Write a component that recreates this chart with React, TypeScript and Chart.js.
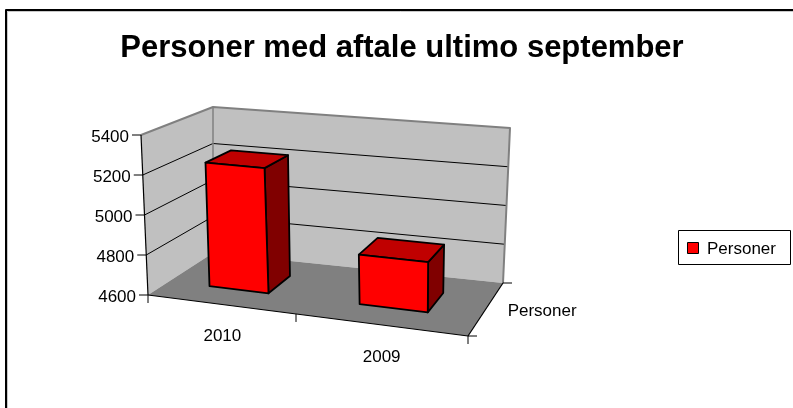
import React, { useEffect, useRef } from "react";
import { Chart, registerables } from "chart.js";

Chart.register(...registerables);

// ---- data ----
const chartTitle = "Personer med aftale ultimo september";
const categories = ["2010", "2009"];
const seriesLabel = "Personer";
const seriesValues = [5230, 4845];
const valueTicks = [4600, 4800, 5000, 5200, 5400];
const depthLabel = "Personer";

// ---- geometry of the 3D frame (plot box corners on screen) ----
type P = { x: number; y: number };

function quadMap(p0: P, p1: P, p2: P, p3: P) {
  const dx1 = p1.x - p2.x, dx2 = p3.x - p2.x, dx3 = p0.x - p1.x + p2.x - p3.x;
  const dy1 = p1.y - p2.y, dy2 = p3.y - p2.y, dy3 = p0.y - p1.y + p2.y - p3.y;
  const den = dx1 * dy2 - dx2 * dy1;
  const g = (dx3 * dy2 - dx2 * dy3) / den;
  const h = (dx1 * dy3 - dx3 * dy1) / den;
  const a = p1.x - p0.x + g * p1.x, b = p3.x - p0.x + h * p3.x, c = p0.x;
  const d = p1.y - p0.y + g * p1.y, e = p3.y - p0.y + h * p3.y, f = p0.y;
  return (u: number, w: number): P => {
    const z = g * u + h * w + 1;
    return { x: (a * u + b * w + c) / z, y: (d * u + e * w + f) / z };
  };
}

const floorMap = quadMap({ x: 148, y: 295 }, { x: 468, y: 336 }, { x: 503, y: 283 }, { x: 213, y: 253 });
const topMap = quadMap({ x: 141, y: 135 }, { x: 472, y: 166 }, { x: 510, y: 128 }, { x: 213, y: 107 });

function proj(u: number, w: number, v: number): P {
  const a = floorMap(u, w);
  const b = topMap(u, w);
  return { x: a.x + (b.x - a.x) * v, y: a.y + (b.y - a.y) * v };
}

const BAR_W0 = 0.3;
const BAR_W1 = 0.68;
const FONT = '"Liberation Sans", Arial, sans-serif';

function poly(ctx: CanvasRenderingContext2D, pts: P[], fill: string | null, stroke: string | null, lw = 1) {
  ctx.beginPath();
  pts.forEach((p, i) => (i === 0 ? ctx.moveTo(p.x, p.y) : ctx.lineTo(p.x, p.y)));
  ctx.closePath();
  if (fill) {
    ctx.fillStyle = fill;
    ctx.fill();
  }
  if (stroke) {
    ctx.strokeStyle = stroke;
    ctx.lineWidth = lw;
    ctx.stroke();
  }
}

function line(ctx: CanvasRenderingContext2D, pts: P[], stroke: string, lw = 1) {
  ctx.beginPath();
  pts.forEach((p, i) => (i === 0 ? ctx.moveTo(p.x, p.y) : ctx.lineTo(p.x, p.y)));
  ctx.strokeStyle = stroke;
  ctx.lineWidth = lw;
  ctx.stroke();
}

const scene3d = {
  id: "scene3d",
  afterDatasetsDraw(chart: any) {
    const ctx: CanvasRenderingContext2D = chart.ctx;
    const xs = chart.scales.x;
    const ys = chart.scales.y;
    const vDec = (val: number) => ys.getDecimalForPixel(ys.getPixelForValue(val));
    ctx.save();
    ctx.lineJoin = "round";

    // outer chart border
    line(ctx, [{ x: 6, y: 420 }, { x: 6, y: 10 }, { x: 800, y: 10 }], "#000", 2);
    line(ctx, [{ x: 7.5, y: 420 }, { x: 7.5, y: 11.5 }, { x: 800, y: 11.5 }], "#c8c8c8", 1);

    // title
    ctx.fillStyle = "#000";
    ctx.font = `bold 31px ${FONT}`;
    ctx.textAlign = "center";
    ctx.textBaseline = "alphabetic";
    ctx.fillText(chartTitle, 402, 57);

    // walls and floor
    poly(ctx, [proj(0, 0, 0), proj(0, 1, 0), proj(0, 1, 1), proj(0, 0, 1)], "#c0c0c0", null);
    poly(ctx, [proj(0, 1, 0), proj(1, 1, 0), proj(1, 1, 1), proj(0, 1, 1)], "#c0c0c0", null);
    poly(ctx, [proj(0, 0, 0), proj(1, 0, 0), proj(1, 1, 0), proj(0, 1, 0)], "#808080", null);

    // gridlines
    valueTicks.forEach((t, i) => {
      if (i === 0 || i === valueTicks.length - 1) return;
      const v = vDec(t);
      line(ctx, [proj(0, 0, v), proj(0, 1, v), proj(1, 1, v)], "#000", 1);
    });

    // wall edges
    line(ctx, [proj(0, 0, 1), proj(0, 1, 1), proj(1, 1, 1), proj(1, 1, 0)], "#808080", 2);
    line(ctx, [proj(0, 1, 0), proj(0, 1, 1)], "#808080", 1.5);

    // value axis
    line(ctx, [proj(0, 0, 0), proj(0, 0, 1)], "#000", 1.2);
    ctx.font = `17px ${FONT}`;
    ctx.textAlign = "right";
    ctx.textBaseline = "middle";
    valueTicks.forEach((t) => {
      const p = proj(0, 0, vDec(t));
      line(ctx, [p, { x: p.x - 9, y: p.y }], "#000", 1);
      ctx.fillStyle = "#000";
      ctx.fillText(String(t), p.x - 12, p.y + 2);
    });

    // category axis (front edge of floor)
    line(ctx, [proj(0, 0, 0), proj(1, 0, 0)], "#000", 1.2);
    const n = categories.length;
    for (let i = 0; i <= n; i++) {
      const p = proj(i / n, 0, 0);
      line(ctx, [p, { x: p.x, y: p.y + 8 }], "#000", 1);
    }
    // depth axis (right edge of floor)
    line(ctx, [proj(1, 0, 0), proj(1, 1, 0)], "#000", 1.2);
    [0, 1].forEach((w) => {
      const p = proj(1, w, 0);
      line(ctx, [p, { x: p.x + 9, y: p.y }], "#000", 1);
    });

    // bars
    const meta = chart.getDatasetMeta(0);
    meta.data.forEach((el: any) => {
      const { x, y, base, width } = el.getProps(["x", "y", "base", "width"], true);
      const u0 = xs.getDecimalForPixel(x - width / 2);
      const u1 = xs.getDecimalForPixel(x + width / 2);
      const vb = Math.max(0, ys.getDecimalForPixel(base));
      const vt = ys.getDecimalForPixel(y);
      const w0 = BAR_W0, w1 = BAR_W1;
      const lw = 1.8;
      poly(ctx, [proj(u1, w0, vb), proj(u1, w1, vb), proj(u1, w1, vt), proj(u1, w0, vt)], "#800000", "#000", lw);
      poly(ctx, [proj(u0, w0, vt), proj(u1, w0, vt), proj(u1, w1, vt), proj(u0, w1, vt)], "#c00000", "#000", lw);
      poly(ctx, [proj(u0, w0, vb), proj(u1, w0, vb), proj(u1, w0, vt), proj(u0, w0, vt)], "#ff0000", "#000", lw);
    });

    // category labels
    ctx.font = `17px ${FONT}`;
    ctx.textAlign = "center";
    ctx.textBaseline = "alphabetic";
    ctx.fillStyle = "#000";
    categories.forEach((c, i) => {
      const u = xs.getDecimalForPixel(xs.getPixelForValue(i));
      const p = proj(u, 0, 0);
      ctx.fillText(c, p.x + 3, p.y + 37);
    });

    // depth (series) axis label
    const dp = proj(1, 0.5, 0);
    ctx.textAlign = "left";
    ctx.fillText(depthLabel, dp.x + 21, dp.y + 8);

    // legend
    ctx.fillStyle = "#fff";
    ctx.fillRect(678.5, 230.5, 112, 34);
    ctx.strokeStyle = "#000";
    ctx.lineWidth = 1;
    ctx.strokeRect(678.5, 230.5, 112, 34);
    ctx.fillStyle = "#ff0000";
    ctx.fillRect(687.5, 242.5, 11, 11);
    ctx.strokeRect(687.5, 242.5, 11, 11);
    ctx.fillStyle = "#000";
    ctx.font = `17px ${FONT}`;
    ctx.textAlign = "left";
    ctx.fillText(chart.data.datasets[0].label, 707, 254);

    ctx.restore();
  },
};

export default function App() {
  const ref = useRef<HTMLCanvasElement>(null);
  useEffect(() => {
    const chart = new Chart(ref.current!, {
      type: "bar",
      data: {
        labels: categories,
        datasets: [
          {
            label: seriesLabel,
            data: seriesValues,
            base: valueTicks[0],
            backgroundColor: "rgba(0,0,0,0)",
            borderWidth: 0,
            barPercentage: 0.41,
            categoryPercentage: 1,
          },
        ],
      },
      options: {
        responsive: false,
        animation: false,
        devicePixelRatio: 1,
        events: [],
        layout: { padding: 0 },
        plugins: {
          legend: { display: false },
          title: { display: false },
          tooltip: { enabled: false },
        },
        scales: {
          x: { display: false, offset: true },
          y: { display: false, min: valueTicks[0], max: valueTicks[valueTicks.length - 1] },
        },
      },
      plugins: [scene3d],
    } as any);
    return () => chart.destroy();
  }, []);
  return (
    <div style={{ position: "absolute", left: 0, top: 0, width: 793, height: 408, background: "#fff" }}>
      <canvas ref={ref} width={793} height={408} style={{ display: "block" }} />
    </div>
  );
}
